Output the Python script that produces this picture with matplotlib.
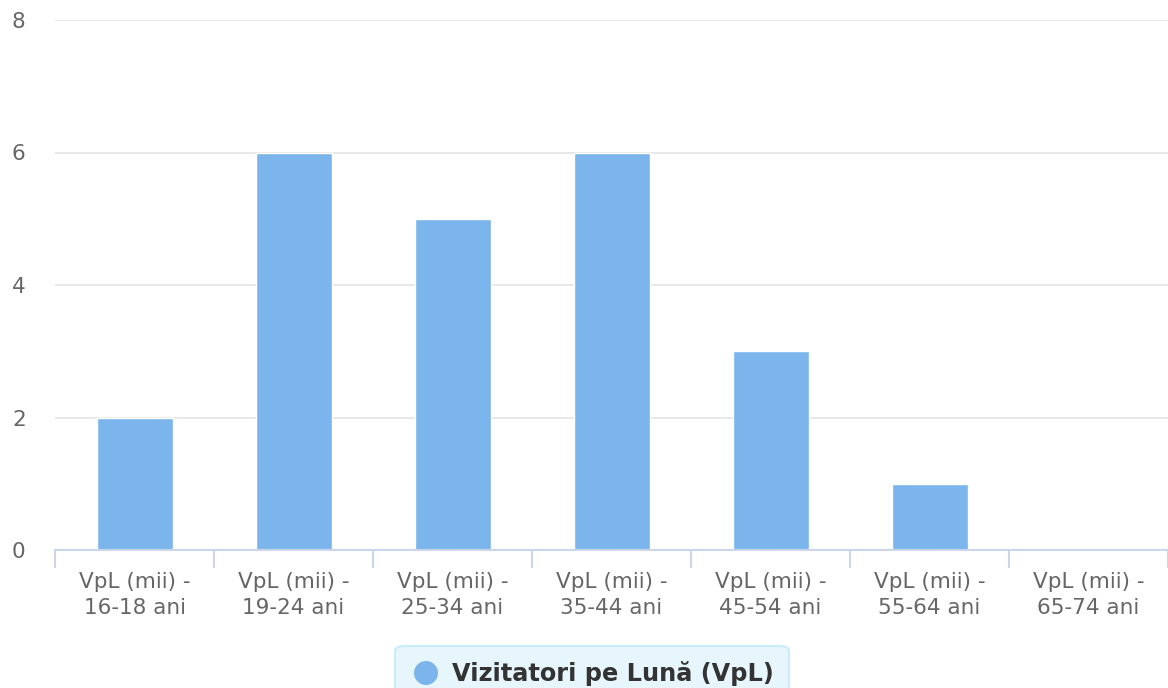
import matplotlib
matplotlib.use("Agg")
import matplotlib.pyplot as plt
from matplotlib.patches import FancyBboxPatch, Ellipse

plt.rcParams["font.family"] = ["DejaVu Sans"]

categories = ["VpL (mii) -\n16-18 ani", "VpL (mii) -\n19-24 ani", "VpL (mii) -\n25-34 ani",
              "VpL (mii) -\n35-44 ani", "VpL (mii) -\n45-54 ani", "VpL (mii) -\n55-64 ani",
              "VpL (mii) -\n65-74 ani"]
values = [2, 6, 5, 6, 3, 1, 0]
yticks = [0, 2, 4, 6, 8]
series_name = "Vizitatori pe Lună (VpL)"

W, H = 1168, 688
fig = plt.figure(figsize=(W / 100, H / 100), dpi=100)
ax = fig.add_axes([55 / W, 1 - 550 / H, (1168 - 55) / W, (550 - 20) / H])

bar_color = "#7cb5ec"
xs = list(range(len(categories)))
ax.bar([x + 0.005 for x in xs], values, width=0.48, color=bar_color, edgecolor="white",
       linewidth=1, zorder=3)

ax.set_xlim(-0.5, len(categories) - 0.5)
ax.set_ylim(0, 8)
ax.set_yticks(yticks)
ax.set_yticklabels([str(v) for v in yticks])
ax.grid(axis="y", color="#e6e6e6", linewidth=1.3, zorder=0)
ax.set_axisbelow(True)

for s in ["top", "right", "left"]:
    ax.spines[s].set_visible(False)
ax.spines["bottom"].set_color("#ccd6eb")
ax.spines["bottom"].set_linewidth(1.5)
ax.spines["bottom"].set_zorder(4)

ax.set_xticks(xs)
ax.set_xticklabels(categories, fontsize=15.5, color="#666666", linespacing=1.38)
ax.tick_params(axis="x", length=0, pad=16)
ax.set_xticks([x - 0.5 for x in range(len(categories) + 1)], minor=True)
ax.tick_params(axis="x", which="minor", length=13, width=1.5, color="#ccd6eb")
ax.tick_params(axis="y", length=0, pad=31, labelsize=15.5, labelcolor="#666666")
for lab in ax.get_yticklabels():
    lab.set_horizontalalignment("left")

# Legend
lx0, ly0, lx1, ly1 = 395, 646, 789, 700
box = FancyBboxPatch((lx0 / W, 1 - ly1 / H), (lx1 - lx0) / W, (ly1 - ly0) / H,
                     boxstyle="round,pad=0,rounding_size=0.008", transform=fig.transFigure,
                     facecolor="#e6f6fc", edgecolor="#c9ecf8", linewidth=1.5, clip_on=False)
fig.patches.append(box)
fig.patches.append(Ellipse((426 / W, 1 - 673 / H), 24 / W, 24 / H, transform=fig.transFigure,
                           facecolor=bar_color, edgecolor="none"))
fig.text(452 / W, 1 - 674 / H, series_name, fontsize=17.3, fontweight="bold", color="#333333",
         ha="left", va="center")

fig.savefig("out.png", dpi=100)
